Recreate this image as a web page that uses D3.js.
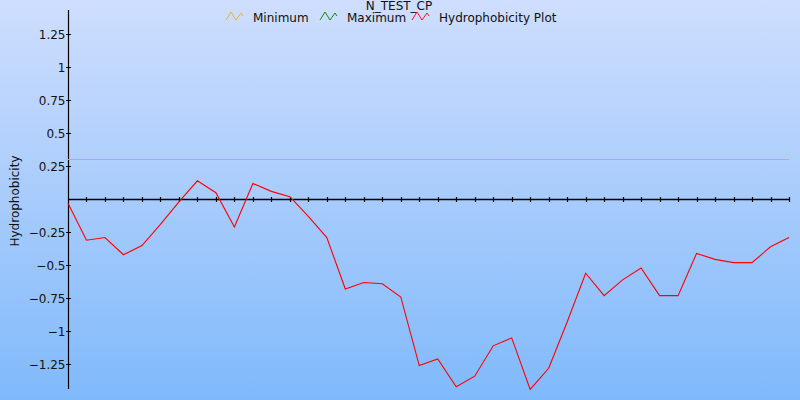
<!DOCTYPE html>
<html>
<head>
<meta charset="utf-8">
<script src="https://cdn.jsdelivr.net/npm/d3@7"></script>
<style>
html,body{margin:0;padding:0;}
svg{display:block;font-family:"DejaVu Sans",sans-serif;}
</style>
</head>
<body>
<svg id="chart" width="800" height="400"></svg>
<script>
const title = "N_TEST_CP";
const yLabel = "Hydrophobicity";
const seriesNames = ["Minimum", "Maximum", "Hydrophobicity Plot"];
const seriesColors = ["#f5a623", "#008000", "#ff0000"];
const positions = d3.range(1, 41);
const hydrophobicity = [-0.03, -0.31, -0.29, -0.42, -0.35, -0.19, -0.02, 0.14, 0.05, -0.21,
  0.12, 0.06, 0.02, -0.13, -0.29, -0.68, -0.63, -0.64, -0.74, -1.26,
  -1.21, -1.42, -1.34, -1.11, -1.05, -1.44, -1.28, -0.93, -0.56, -0.73,
  -0.61, -0.52, -0.73, -0.73, -0.41, -0.455, -0.48, -0.48, -0.36, -0.29];
const minimumValue = 0.3;
const yTicks = [-1.25, -1, -0.75, -0.5, -0.25, 0.25, 0.5, 0.75, 1, 1.25];

const svg = d3.select("#chart");
const W = 800, H = 400;
const defs = svg.append("defs");
const grad = defs.append("linearGradient").attr("id", "bg").attr("x1", 0).attr("y1", 0).attr("x2", 0).attr("y2", 1);
grad.append("stop").attr("offset", "0%").attr("stop-color", "#cfdefd");
grad.append("stop").attr("offset", "100%").attr("stop-color", "#80b9fb");
svg.append("rect").attr("width", W).attr("height", H).attr("fill", "url(#bg)");

const x = d3.scaleLinear().domain([1, 40]).range([68, 789]);
const y = d3.scaleLinear().domain([0, 1]).range([199.3, 67.3]);

// y axis
const yAxis = svg.append("g").attr("transform", "translate(68.5,0)");
yAxis.append("line").attr("x1", 0).attr("x2", 0).attr("y1", 10).attr("y2", 389).attr("stroke", "#000").attr("stroke-width", 1.2);
const yt = yAxis.selectAll("g.t").data(yTicks).enter().append("g").attr("class", "t")
  .attr("transform", d => `translate(0,${Math.round(y(d)) + 0.5})`);
yt.append("line").attr("x1", -2.5).attr("x2", 2.5).attr("stroke", "#000").attr("stroke-width", 1);
yt.append("text").attr("x", -3).attr("dy", "0.35em").attr("text-anchor", "end")
  .attr("font-size", 12).attr("fill", "#111").text(d => d3.format("")(d));

// x axis at zero
const xAxis = svg.append("g").attr("transform", `translate(0,${Math.round(y(0)) + 0.5})`);
xAxis.append("line").attr("x1", 68).attr("x2", 789).attr("stroke", "#000").attr("stroke-width", 1.4);
xAxis.selectAll("line.t").data(positions.slice(1)).enter().append("line").attr("class", "t")
  .attr("x1", d => Math.round(x(d)) + 0.5).attr("x2", d => Math.round(x(d)) + 0.5)
  .attr("y1", -2.5).attr("y2", 2.5).attr("stroke", "#000").attr("stroke-width", 1.2);

// minimum line
svg.append("line").attr("x1", x(1)).attr("x2", x(40))
  .attr("y1", Math.floor(y(minimumValue)) + 0.5).attr("y2", Math.floor(y(minimumValue)) + 0.5)
  .attr("stroke", seriesColors[0]).attr("stroke-width", 1).attr("shape-rendering", "crispEdges");

// hydrophobicity line
const line = d3.line().x((d, i) => x(positions[i])).y(d => y(d));
svg.append("path").datum(hydrophobicity).attr("d", line)
  .attr("fill", "none").attr("stroke", seriesColors[2]).attr("stroke-width", 1.1);

// title
svg.append("text").attr("x", 399).attr("y", 10).attr("text-anchor", "middle")
  .attr("font-size", 12).attr("fill", "#111").text(title);

// y label
svg.append("text").attr("transform", "translate(19,201) rotate(-90)").attr("text-anchor", "middle")
  .attr("font-size", 12).attr("fill", "#111").text(yLabel);

// legend
const legendX = [226, 320, 412];
const lg = svg.selectAll("g.lg").data(seriesNames).enter().append("g").attr("class", "lg")
  .attr("transform", (d, i) => `translate(${legendX[i]},0)`);
lg.append("path").attr("d", "M0,20 L5,12 L10,20 L15,13 L17,16")
  .attr("fill", "none").attr("stroke", (d, i) => seriesColors[i]).attr("stroke-width", 0.9);
lg.append("text").attr("x", 27).attr("y", 22).attr("font-size", 12).attr("fill", "#111").text(d => d);
</script>
</body>
</html>
